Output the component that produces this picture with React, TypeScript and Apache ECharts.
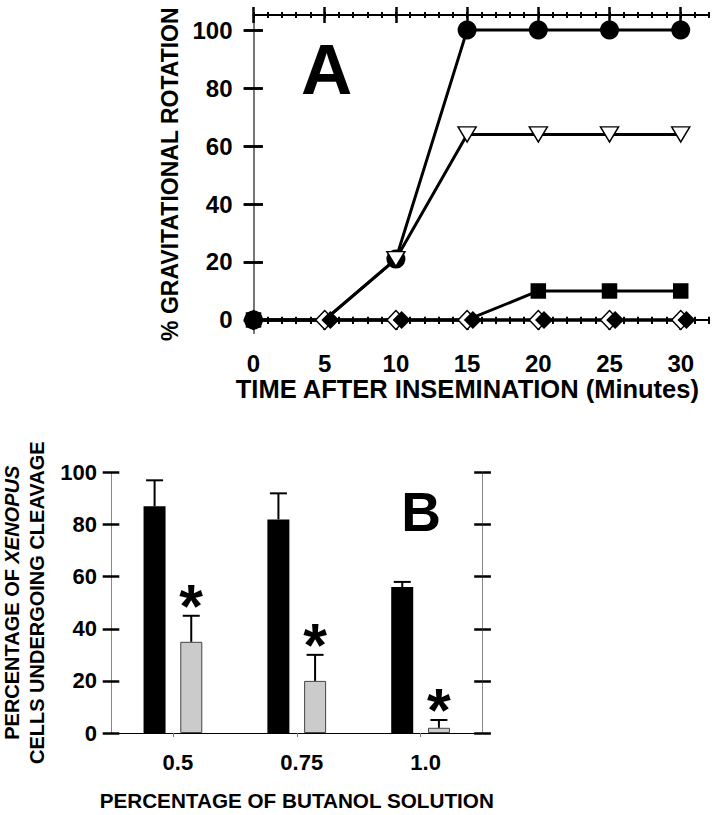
import React, { useEffect, useRef } from "react";
import * as echarts from "echarts";

// ---------- Panel A data ----------
const times = [0, 5, 10, 15, 20, 25, 30];
const filledCircle = [0, 0, 21, 100, 100, 100, 100];
const openTriangle = [0, 0, 21, 64, 64, 64, 64];
const filledSquare = [0, 0, 0, 0, 10, 10, 10];
const openDiamond = [0, 0, 0, 0, 0, 0, 0];
const filledDiamondTimes = [5.4, 10.4, 15.4, 20.4, 25.4, 30.4];
const filledDiamond = [0, 0, 0, 0, 0, 0];
// times at which a series' marker is hidden behind other markers
const circleHiddenAt = [5];
const triangleHiddenAt = [0, 5];
const squareHiddenAt = [5, 10, 15];
const timeTicks = [0, 5, 10, 15, 20, 25, 30];
const minuteTicks = [0, 1, 2, 3, 4, 5, 6, 7, 8, 9, 10, 11, 12, 13, 14, 15, 16, 17, 18, 19, 20, 21, 22, 23, 24, 25, 26, 27, 28, 29, 30, 31, 32];
const rotationTicks = [0, 20, 40, 60, 80, 100];

// ---------- Panel B data ----------
const butanolCats = ["0.5", "0.75", "1.0"];
const controlValues = [87, 82, 56];
const controlErrTop = [97, 92, 58];
const treatedValues = [35, 20, 2];
const treatedErrTop = [45, 30, 5];

const FONT = "Liberation Sans, Arial, Helvetica, sans-serif";

function pairs(xs: number[], ys: number[], hidden: number[] = []) {
  return xs.map((x, i) =>
    hidden.indexOf(x) >= 0 ? { value: [x, ys[i]], symbol: "none" } : [x, ys[i]]
  );
}

export default function App() {
  const ref = useRef<HTMLDivElement>(null);
  useEffect(() => {
    document.body.style.margin = "0";
    const chart = echarts.init(ref.current!, undefined, { renderer: "svg" });

    const hide = { show: false };
    const xA = (o: any) => ({
      type: "value",
      gridIndex: 0,
      min: 0,
      max: 32,
      splitLine: hide,
      axisLabel: hide,
      axisLine: hide,
      ...o,
    });
    const yA = (o: any) => ({
      type: "value",
      gridIndex: 0,
      min: -4.6,
      max: 105.2,
      splitLine: hide,
      axisLabel: hide,
      axisLine: hide,
      ...o,
    });
    const yB = (o: any) => ({
      type: "value",
      gridIndex: 1,
      min: 0,
      max: 100,
      interval: 20,
      splitLine: hide,
      axisLabel: hide,
      axisLine: hide,
      ...o,
    });
    const tick = (len: number, inside: boolean, vals: number[], w = 2.5, color = "#000") => ({
      show: true,
      length: len,
      inside,
      customValues: vals,
      lineStyle: { color, width: w },
    });
    const tickB = (len: number, inside: boolean) => ({
      show: true,
      length: len,
      inside,
      lineStyle: { color: "#000", width: 2.5 },
    });

    const lineSeries = (name: string, data: any[], symbol: string, size: any, filled: boolean, extra: any = {}) => ({
      type: "line",
      name,
      xAxisIndex: 0,
      yAxisIndex: 0,
      data,
      symbol,
      symbolSize: size,
      showSymbol: true,
      lineStyle: { color: "#000", width: 3 },
      itemStyle: filled
        ? { color: "#000", borderColor: "#000", borderWidth: 0 }
        : { color: "#fff", borderColor: "#000", borderWidth: 1.5 },
      emphasis: { disabled: true },
      ...extra,
    });

    const errRender = (offFrac: number, star: boolean) => (params: any, api: any) => {
      const idx = api.value(0);
      const top = api.value(1);
      const val = api.value(2);
      const base = api.coord([idx, val]);
      const hi = api.coord([idx, top]);
      const band = api.size([1, 0])[0];
      const x = base[0] + band * offFrac;
      const children: any[] = [
        { type: "line", shape: { x1: x, y1: base[1], x2: x, y2: hi[1] }, style: { stroke: "#000", lineWidth: 2 } },
        { type: "line", shape: { x1: x - 8.5, y1: hi[1], x2: x + 8.5, y2: hi[1] }, style: { stroke: "#000", lineWidth: 2 } },
      ];
      if (star) {
        children.push({
          type: "text",
          style: {
            text: "*",
            x: x,
            y: hi[1] - 10,
            align: "center",
            verticalAlign: "middle",
            fontSize: 61,
            fontWeight: "bold",
            fontFamily: FONT,
            fill: "#000",
          },
        });
      }
      return { type: "group", children };
    };

    const option: any = {
      animation: false,
      backgroundColor: "#fff",
      textStyle: { fontFamily: FONT, color: "#000" },
      grid: [
        { left: 253.5, right: 16.8, top: 15, height: 318.3, outerBoundsMode: "none", containLabel: false },
        { left: 111, right: 243.5, top: 472.5, bottom: 82, outerBoundsMode: "none", containLabel: false },
      ],
      xAxis: [
        // Panel A bottom: main (labels + outward major ticks)
        xA({
          position: "bottom",
          axisLine: { show: true, lineStyle: { color: "#000", width: 2 } },
          axisTick: tick(10, false, timeTicks),
          axisLabel: {
            show: true,
            customValues: timeTicks,
            margin: 18,
            fontSize: 24,
            fontWeight: "bold",
            fontFamily: FONT,
            color: "#000",
          },
          name: "TIME AFTER INSEMINATION (Minutes)",
          nameLocation: "middle",
          nameGap: 40,
          nameTextStyle: {
            fontSize: 25.5,
            fontWeight: "bold",
            fontFamily: FONT,
            color: "#000",
            padding: [0, 28, 0, 0],
          },
        }),
        xA({ position: "bottom", axisTick: tick(6.6, true, timeTicks) }),
        xA({ position: "bottom", axisTick: tick(4, false, minuteTicks, 2) }),
        xA({ position: "bottom", axisTick: tick(3.3, true, minuteTicks, 2) }),
        // Panel A top
        xA({
          position: "top",
          axisLine: { show: true, lineStyle: { color: "#000", width: 2 } },
          axisTick: tick(8, false, timeTicks),
        }),
        xA({ position: "top", axisTick: tick(8, true, timeTicks) }),
        xA({ position: "top", axisTick: tick(3, false, minuteTicks, 2) }),
        xA({ position: "top", axisTick: tick(3, true, minuteTicks, 2) }),
        // Panel B
        {
          type: "category",
          gridIndex: 1,
          position: "bottom",
          data: butanolCats,
          axisLine: { show: true, lineStyle: { color: "#777", width: 1 } },
          axisTick: { show: true, alignWithLabel: true, length: 4, lineStyle: { color: "#777", width: 1 } },
          axisLabel: {
            show: true,
            margin: 18,
            fontSize: 22,
            fontWeight: "bold",
            fontFamily: FONT,
            color: "#000",
            padding: [0, 0, 0, 10],
          },
          splitLine: hide,
          name: "PERCENTAGE OF BUTANOL SOLUTION",
          nameLocation: "middle",
          nameGap: 57,
          nameTextStyle: { fontSize: 20.7, fontWeight: "bold", fontFamily: FONT, color: "#000" },
        },
        {
          type: "category",
          gridIndex: 1,
          position: "top",
          data: butanolCats,
          axisLine: { show: true, lineStyle: { color: "#000", width: 1 } },
          axisTick: hide,
          axisLabel: hide,
          splitLine: hide,
        },
      ],
      yAxis: [
        yA({
          position: "left",
          axisLine: { show: true, lineStyle: { color: "#000", width: 1.5 } },
          axisTick: tick(9.5, false, rotationTicks),
          axisLabel: {
            show: true,
            customValues: rotationTicks,
            margin: 21,
            fontSize: 24,
            fontWeight: "bold",
            fontFamily: FONT,
            color: "#000",
          },
          name: "% GRAVITATIONAL ROTATION",
          nameLocation: "middle",
          nameRotate: 90,
          nameGap: 65,
          nameTextStyle: {
            fontSize: 23,
            fontWeight: "bold",
            fontFamily: FONT,
            color: "#000",
          },
        }),
        yA({ position: "left", axisTick: tick(9.5, true, rotationTicks) }),
        yA({
          position: "right",
          axisLine: { show: true, lineStyle: { color: "#888", width: 1.5 } },
          axisTick: tick(9, false, rotationTicks),
        }),
        yA({ position: "right", axisTick: tick(10, true, rotationTicks) }),
        // Panel B
        yB({
          position: "left",
          axisLine: { show: true, lineStyle: { color: "#888", width: 1 } },
          axisTick: tickB(8.3, false),
          axisLabel: {
            show: true,
            margin: 14,
            fontSize: 22,
            fontWeight: "bold",
            fontFamily: FONT,
            color: "#000",
          },
          name: "{n|PERCENTAGE OF }{i|XENOPUS}\n{n|CELLS UNDERGOING CLEAVAGE}",
          nameLocation: "middle",
          nameRotate: 90,
          nameGap: 58,
          nameTextStyle: {
            fontSize: 20,
            fontWeight: "bold",
            fontFamily: FONT,
            color: "#000",
            lineHeight: 25,
            rich: {
              n: { fontSize: 20, fontWeight: "bold", fontFamily: FONT, color: "#000", lineHeight: 25 },
              i: { fontSize: 20, fontWeight: "bold", fontStyle: "italic", fontFamily: FONT, color: "#000", lineHeight: 25 },
            },
          },
        }),
        yB({ position: "left", axisTick: tickB(8.3, true) }),
        yB({
          position: "right",
          axisLine: { show: true, lineStyle: { color: "#888", width: 1 } },
          axisTick: tickB(8.4, false),
        }),
        yB({ position: "right", axisTick: tickB(8.3, true) }),
      ],
      series: [
        lineSeries("open diamond", pairs(times, openDiamond), "diamond", [18, 19], false),
        lineSeries("filled diamond", pairs(filledDiamondTimes, filledDiamond), "diamond", [18, 18], true),
        lineSeries("filled square", pairs(times, filledSquare, squareHiddenAt), "rect", 15.5, true),
        lineSeries("filled circle", pairs(times, filledCircle, circleHiddenAt), "circle", 19, true),
        lineSeries("open triangle", pairs(times, openTriangle, triangleHiddenAt), "triangle", [18, 15], false, { symbolRotate: 180 }),
        {
          type: "bar",
          name: "control",
          xAxisIndex: 8,
          yAxisIndex: 4,
          data: controlValues,
          barWidth: 22,
          barGap: "67%",
          itemStyle: { color: "#000" },
          emphasis: { disabled: true },
        },
        {
          type: "bar",
          name: "butanol",
          xAxisIndex: 8,
          yAxisIndex: 4,
          data: treatedValues,
          barWidth: 22,
          barGap: "67%",
          itemStyle: { color: "#cbcbcb", borderColor: "#444", borderWidth: 1 },
          emphasis: { disabled: true },
        },
        {
          type: "custom",
          name: "control error",
          xAxisIndex: 8,
          yAxisIndex: 4,
          data: butanolCats.map((_, i) => [i, controlErrTop[i], controlValues[i]]),
          renderItem: errRender(-0.148, false),
          z: 3,
        },
        {
          type: "custom",
          name: "butanol error",
          xAxisIndex: 8,
          yAxisIndex: 4,
          data: butanolCats.map((_, i) => [i, treatedErrTop[i], treatedValues[i]]),
          renderItem: errRender(0.148, true),
          z: 3,
        },
      ],
      graphic: [
        {
          type: "text",
          x: 326.7,
          y: 69,
          style: { text: "A", fontSize: 71, fontWeight: "bold", fontFamily: FONT, fill: "#000", align: "center", verticalAlign: "middle" },
        },
        {
          type: "text",
          x: 421,
          y: 512,
          style: { text: "B", fontSize: 55, fontWeight: "bold", fontFamily: FONT, fill: "#000", align: "center", verticalAlign: "middle" },
        },
      ],
    };
    chart.setOption(option);
    return () => chart.dispose();
  }, []);
  return <div ref={ref} style={{ width: 726, height: 815, position: "absolute", left: 0, top: 0 }} />;
}
